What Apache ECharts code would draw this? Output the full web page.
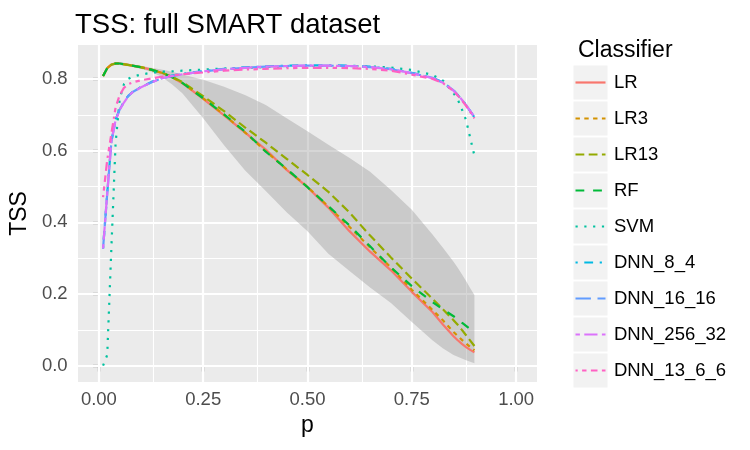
<!DOCTYPE html>
<html>
<head>
<meta charset="utf-8">
<script src="https://cdn.jsdelivr.net/npm/echarts@6/dist/echarts.min.js"></script>
<style>html,body{margin:0;padding:0;background:#fff;}#c{width:750px;height:450px;}</style>
</head>
<body>
<div id="c"></div>
<script>
// ---- data ----
const P = [0.01,0.02,0.03,0.04,0.05,0.06,0.07,0.08,0.1,0.125,0.15,0.175,0.2,0.25,0.3,0.35,0.4,0.45,0.5,0.55,0.6,0.65,0.7,0.75,0.8,0.825,0.85,0.86,0.87,0.88,0.89,0.9];

const LR   = [0.808,0.830,0.840,0.843,0.843,0.841,0.839,0.837,0.833,0.826,0.817,0.805,0.788,0.744,0.698,0.651,0.603,0.546,0.498,0.441,0.376,0.318,0.266,0.206,0.149,0.114,0.082,0.071,0.061,0.052,0.044,0.037];
const LR3  = [0.808,0.830,0.840,0.843,0.843,0.841,0.839,0.837,0.833,0.826,0.817,0.805,0.789,0.746,0.700,0.651,0.598,0.548,0.499,0.444,0.388,0.330,0.274,0.212,0.155,0.126,0.094,0.083,0.072,0.062,0.052,0.043];
const LR13 = [0.808,0.830,0.840,0.843,0.843,0.841,0.839,0.837,0.833,0.826,0.818,0.806,0.791,0.752,0.710,0.665,0.622,0.577,0.532,0.485,0.428,0.363,0.302,0.243,0.186,0.157,0.127,0.114,0.100,0.085,0.070,0.055];
const RF   = [0.808,0.830,0.840,0.843,0.843,0.841,0.839,0.837,0.833,0.826,0.817,0.805,0.789,0.746,0.701,0.653,0.597,0.549,0.498,0.445,0.392,0.333,0.274,0.222,0.177,0.157,0.138,0.130,0.120,0.111,0.102,0.093];
const SVM  = [0.000,0.030,0.330,0.620,0.745,0.785,0.800,0.806,0.812,0.817,0.820,0.821,0.823,0.826,0.829,0.831,0.833,0.835,0.836,0.836,0.836,0.835,0.832,0.825,0.811,0.795,0.760,0.743,0.715,0.685,0.635,0.586];
const DNN_8_4    = [0.327,0.480,0.627,0.686,0.716,0.736,0.752,0.763,0.777,0.791,0.802,0.809,0.814,0.822,0.828,0.832,0.835,0.837,0.838,0.838,0.837,0.834,0.828,0.817,0.803,0.790,0.768,0.755,0.742,0.727,0.710,0.693];
const DNN_16_16  = [0.327,0.480,0.625,0.685,0.715,0.735,0.752,0.763,0.776,0.790,0.801,0.808,0.813,0.821,0.827,0.831,0.834,0.836,0.837,0.837,0.836,0.833,0.827,0.816,0.803,0.790,0.768,0.755,0.742,0.727,0.710,0.693];
const DNN_256_32 = [0.327,0.481,0.626,0.685,0.714,0.734,0.751,0.762,0.776,0.790,0.801,0.808,0.813,0.821,0.827,0.831,0.834,0.836,0.837,0.837,0.836,0.833,0.827,0.816,0.802,0.789,0.767,0.755,0.742,0.727,0.710,0.694];
const DNN_13_6_6 = [0.470,0.574,0.648,0.720,0.755,0.775,0.785,0.790,0.796,0.801,0.806,0.810,0.813,0.818,0.823,0.826,0.828,0.830,0.831,0.831,0.830,0.828,0.823,0.812,0.800,0.788,0.766,0.754,0.740,0.725,0.708,0.690];

const RIB_LOW  = [0.803,0.826,0.836,0.839,0.839,0.837,0.835,0.833,0.828,0.820,0.806,0.785,0.760,0.690,0.615,0.545,0.487,0.428,0.375,0.312,0.265,0.218,0.175,0.122,0.070,0.048,0.030,0.025,0.020,0.015,0.011,0.007];
const RIB_HIGH = [0.813,0.834,0.844,0.847,0.847,0.845,0.843,0.841,0.837,0.831,0.826,0.820,0.812,0.798,0.778,0.755,0.727,0.690,0.654,0.616,0.580,0.541,0.490,0.435,0.365,0.328,0.290,0.273,0.255,0.236,0.216,0.197];

const X_TICKS = [0, 0.25, 0.5, 0.75, 1];
const X_MINOR = [0.125, 0.375, 0.625, 0.875];
const Y_TICKS = [0, 0.2, 0.4, 0.6, 0.8];
const Y_MINOR = [0.1, 0.3, 0.5, 0.7];

const NAMES  = ['LR','LR3','LR13','RF','SVM','DNN_8_4','DNN_16_16','DNN_256_32','DNN_13_6_6'];
const VALUES = [LR, LR3, LR13, RF, SVM, DNN_8_4, DNN_16_16, DNN_256_32, DNN_13_6_6];
const COLORS = ['#F8766D','#D39200','#93AA00','#00BA38','#00C19F','#00B9E3','#619CFF','#DB72FB','#FF61C3'];
const U = 2.2;
const DASHES = [null,[2*U,2*U],[4*U,2*U],[4*U,4*U],[1*U,3*U],[1*U,3*U,4*U,3*U],[7*U,3*U],[2*U,2*U,6*U,2*U],[1*U,2*U,2*U,2*U,3*U,2*U,4*U,2*U]];

const FONT = '"Liberation Sans", Arial, Helvetica, sans-serif';
const zip = arr => P.map((p, i) => [p, arr[i]]);

const gridLines = [];
X_TICKS.forEach(v => gridLines.push({xAxis: v, lineStyle: {color: '#ffffff', width: 2.2, type: 'solid'}}));
X_MINOR.forEach(v => gridLines.push({xAxis: v, lineStyle: {color: '#ffffff', width: 1.1, type: 'solid'}}));
Y_TICKS.forEach(v => gridLines.push({yAxis: v, lineStyle: {color: '#ffffff', width: 2.2, type: 'solid'}}));
Y_MINOR.forEach(v => gridLines.push({yAxis: v, lineStyle: {color: '#ffffff', width: 1.1, type: 'solid'}}));

const series = [];
series.push({
  name: '_grid', type: 'line', data: [], silent: true, z: 1,
  markLine: {silent: true, z: 1, symbol: ['none','none'], label: {show: false}, animation: false, data: gridLines}
});
series.push({
  name: '_ribbon', type: 'custom', coordinateSystem: 'cartesian2d', silent: true, z: 2,
  data: [[P[0], RIB_LOW[0]]], encode: {x: 0, y: 1},
  renderItem: (params, api) => {
    const pts = [];
    for (let i = 0; i < P.length; i++) pts.push(api.coord([P[i], RIB_HIGH[i]]));
    for (let i = P.length - 1; i >= 0; i--) pts.push(api.coord([P[i], RIB_LOW[i]]));
    return {type: 'polygon', shape: {points: pts}, style: {fill: 'rgba(153,153,153,0.4)', stroke: null}};
  }
});
NAMES.forEach((n, i) => {
  series.push({
    name: n, type: 'line', data: zip(VALUES[i]), symbol: 'none', showSymbol: false, z: 3,
    color: COLORS[i],
    lineStyle: {color: COLORS[i], width: U, type: DASHES[i] || 'solid', cap: 'butt'}
  });
});

// legend drawn as keys: grey boxes, line samples, labels
const legendGraphics = [];
NAMES.forEach((n, i) => {
  const top = 65.5 + 36 * i;
  const cy = top + 17;
  legendGraphics.push({type: 'rect', left: 573.5, top: top, z: 0, shape: {width: 34, height: 34}, style: {fill: '#F2F2F2'}});
  legendGraphics.push({type: 'line', z: 1, shape: {x1: 575.5, y1: cy, x2: 605.5, y2: cy},
    style: {stroke: COLORS[i], lineWidth: U, lineDash: DASHES[i], lineCap: 'butt'}});
  legendGraphics.push({type: 'text', z: 1, x: 614, y: cy,
    style: {text: n, fill: '#000', font: '18.5px ' + FONT, textVerticalAlign: 'middle', verticalAlign: 'middle', textAlign: 'left', align: 'left'}});
});

const chart = echarts.init(document.getElementById('c'), null, {renderer: 'canvas'});
chart.setOption({
  animation: false,
  backgroundColor: '#ffffff',
  textStyle: {fontFamily: FONT},
  title: [
    {text: 'TSS: full SMART dataset', left: 70, top: 6, textStyle: {fontFamily: FONT, fontSize: 27.5, fontWeight: 'normal', color: '#000'}},
    {text: 'Classifier', left: 573, top: 34, textStyle: {fontFamily: FONT, fontSize: 23, fontWeight: 'normal', color: '#000'}}
  ],
  grid: {left: 76, right: 213, top: 45, bottom: 68, show: true, backgroundColor: '#EBEBEB', borderWidth: 0, containLabel: false},
  xAxis: {
    type: 'value', min: -0.05, max: 1.05,
    name: 'p', nameLocation: 'middle', nameGap: 29,
    nameTextStyle: {fontFamily: FONT, fontSize: 23, color: '#000'},
    axisLine: {show: false},
    axisTick: {show: true, customValues: X_TICKS, length: 5.8, lineStyle: {color: '#333333', width: 2.2}},
    axisLabel: {show: true, customValues: X_TICKS, margin: 8, color: '#4D4D4D', fontSize: 18.5, fontFamily: FONT,
      formatter: v => v.toFixed(2)},
    splitLine: {show: false}, minorSplitLine: {show: false}
  },
  yAxis: {
    type: 'value', min: -0.0455, max: 0.8946,
    name: 'TSS', nameLocation: 'middle', nameGap: 44,
    nameTextStyle: {fontFamily: FONT, fontSize: 23, color: '#000'},
    axisLine: {show: false},
    axisTick: {show: true, customValues: Y_TICKS, length: 5.8, lineStyle: {color: '#333333', width: 2.2}},
    axisLabel: {show: true, customValues: Y_TICKS, margin: 10.4, color: '#4D4D4D', fontSize: 18.5, fontFamily: FONT,
      formatter: v => v.toFixed(1)},
    splitLine: {show: false}, minorSplitLine: {show: false}
  },
  graphic: legendGraphics,
  series: series
});
</script>
</body>
</html>
